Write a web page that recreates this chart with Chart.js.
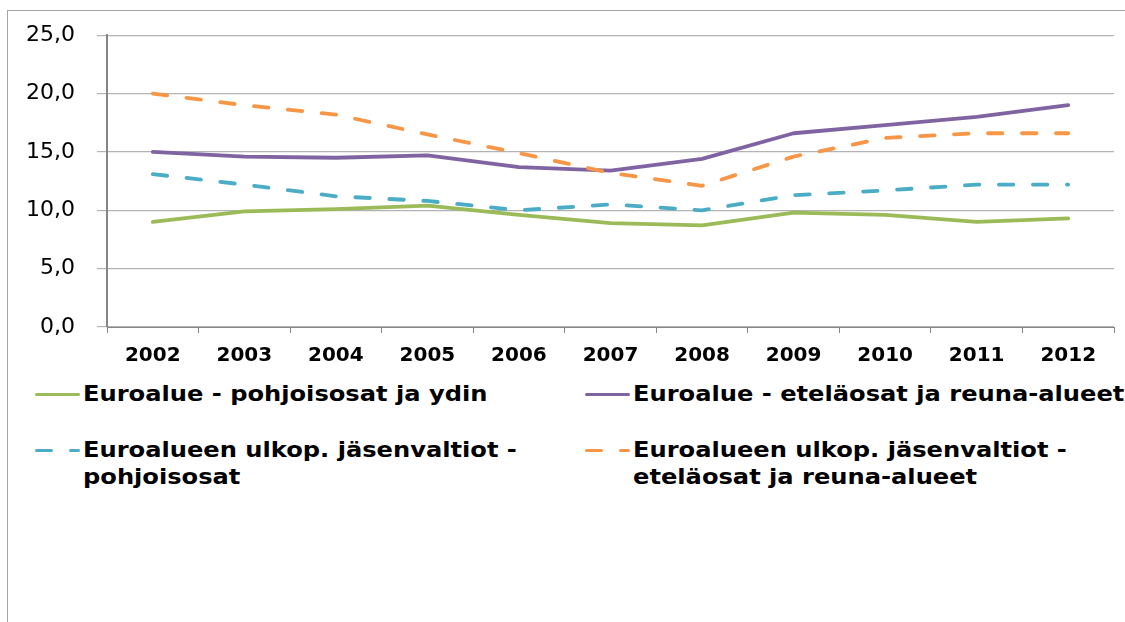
<!DOCTYPE html>
<html>
<head>
<meta charset="utf-8">
<script src="https://cdn.jsdelivr.net/npm/chart.js@4/dist/chart.umd.min.js"></script>
<style>
  body { margin: 0; background: #fff; width: 1125px; height: 622px; overflow: hidden; position: relative; }
  #frame { position: absolute; left: 7px; top: 10px; width: 1130px; height: 620px;
           border-left: 1.5px solid #a6a6a6; border-top: 1.5px solid #a6a6a6; }
  #myChart { position: absolute; left: 0; top: 0; }
  .leg { position: absolute; font-family: "DejaVu Sans", sans-serif; font-weight: bold;
         font-size: 21px; line-height: 27px; color: #000; white-space: nowrap;
         transform: scaleX(1.15); transform-origin: 0 0; }
  .sw { position: absolute; height: 3.5px; border-radius: 2px; }
</style>
</head>
<body>
<div id="frame"></div>
<canvas id="myChart" width="1125" height="380"></canvas>
<div id="legend"></div>
<script>
const years = ['2002', '2003', '2004', '2005', '2006', '2007', '2008', '2009', '2010', '2011', '2012'];
const northCore = [9.0, 9.9, 10.1, 10.4, 9.6, 8.9, 8.7, 9.8, 9.6, 9.0, 9.3];
const southPeriphery = [15.0, 14.6, 14.5, 14.7, 13.7, 13.4, 14.4, 16.6, 17.3, 18.0, 19.0];
const outsideNorth = [13.1, 12.2, 11.2, 10.8, 10.0, 10.5, 10.0, 11.3, 11.7, 12.2, 12.2];
const outsideSouth = [20.0, 19.0, 18.2, 16.5, 14.9, 13.2, 12.1, 14.6, 16.2, 16.6, 16.6];
const yTicks = [0, 5, 10, 15, 20, 25];

const seriesNames = [
    'Euroalue - pohjoisosat ja ydin',
    'Euroalue - eteläosat ja reuna-alueet',
    'Euroalueen ulkop. jäsenvaltiot -\npohjoisosat',
    'Euroalueen ulkop. jäsenvaltiot -\neteläosat ja reuna-alueet'
];
const colors = ['#9bbb59', '#8064a2', '#4bacc6', '#f79646'];

function createChart(){
    var ctx = document.getElementById('myChart').getContext('2d');
    var dash = [14.5, 19.5];
    var chart = new Chart(ctx, {
        type: 'line',
        data: {
            labels: years,
            datasets: [
                { label: seriesNames[0], data: northCore, borderColor: colors[0], order: 3 },
                { label: seriesNames[1], data: southPeriphery, borderColor: colors[1], order: 1 },
                { label: seriesNames[2], data: outsideNorth, borderColor: colors[2], borderDash: dash, order: 2 },
                { label: seriesNames[3], data: outsideSouth, borderColor: colors[3], borderDash: dash, order: 0 }
            ]
        },
        options: {
            responsive: false,
            animation: false,
            layout: { padding: { top: 31, right: 11, left: 0, bottom: 0 } },
            elements: {
                line: { borderWidth: 3.8, tension: 0, borderCapStyle: 'round', borderJoinStyle: 'round', fill: false },
                point: { radius: 0, hoverRadius: 0 }
            },
            plugins: { legend: { display: false }, tooltip: { enabled: false } },
            scales: {
                x: {
                    offset: true,
                    afterFit: s => { s.height = 53; },
                    grid: { offset: true, drawOnChartArea: false, drawTicks: true, tickLength: 6, color: '#868686' },
                    border: { color: '#868686', width: 1 },
                    ticks: { font: { family: 'DejaVu Sans', size: 20, weight: 'bold' }, color: '#000',
                             padding: 11, autoSkip: false, maxRotation: 0 }
                },
                y: {
                    min: 0, max: 25,
                    afterFit: s => { s.width = 107; },
                    afterBuildTicks: s => { s.ticks = yTicks.map(v => ({ value: v })); },
                    grid: { color: '#b3b3b3', lineWidth: 1.2, tickLength: 10 },
                    border: { color: '#868686', width: 2 },
                    ticks: { font: { family: 'DejaVu Sans', size: 22 }, color: '#000', padding: 22,
                             callback: v => v.toFixed(1).replace('.', ',') }
                }
            }
        }
    });
    return chart;
}

function buildLegend(){
    const box = document.getElementById('legend');
    // column x, text top
    const spots = [[35, 381], [585, 381], [35, 437], [585, 437]];
    seriesNames.forEach((name, i) => {
        const [x, top] = spots[i];
        const lineY = top + 11.5;
        if (i < 2){
            box.innerHTML += `<div class="sw" style="left:${x}px;top:${lineY}px;width:45px;background:${colors[i]}"></div>`;
        } else {
            box.innerHTML += `<div class="sw" style="left:${x}px;top:${lineY}px;width:18px;background:${colors[i]}"></div>`;
            box.innerHTML += `<div class="sw" style="left:${x + 34}px;top:${lineY}px;width:11px;background:${colors[i]}"></div>`;
        }
        box.innerHTML += `<div class="leg" style="left:${x + 48}px;top:${top}px">${name.replace('\n', '<br>')}</div>`;
    });
}

createChart();
buildLegend();
</script>
</body>
</html>
